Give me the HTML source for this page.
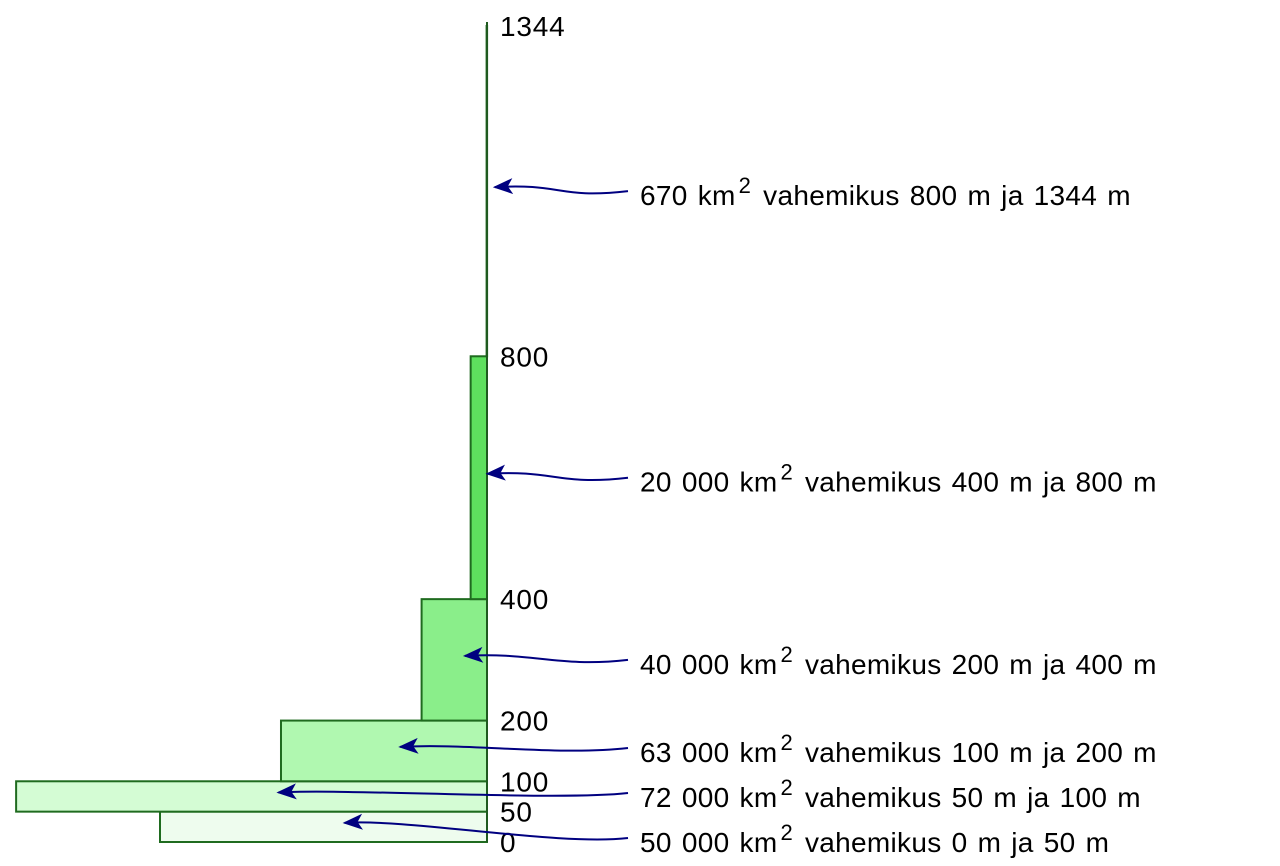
<!DOCTYPE html>
<html><head><meta charset="utf-8"><style>
html,body{margin:0;padding:0;background:#fff;}
svg{display:block;font-family:"Liberation Sans",sans-serif;}
</style></head><body>
<svg id="chart" width="1280" height="866"></svg>
<script>
const lows = [0, 50, 100, 200, 400, 800];
const highs = [50, 100, 200, 400, 800, 1344];
const areas = [50000, 72000, 63000, 40000, 20000, 670];
const areaLabels = ["50 000", "72 000", "63 000", "40 000", "20 000", "670"];
const tickValues = [0, 50, 100, 200, 400, 800, 1344];
const fills = ["#eefcee", "#d4fcd4", "#b0f8b0", "#8aee8a", "#5ee05e", "#5ee05e"];

const NS = "http://www.w3.org/2000/svg";
const svg = document.getElementById("chart");
const axisX = 487;
function yScale(v){ return 842 - v * (842 - 26) / 1344; }
function wScale(a, lo, hi){ return a / (hi - lo) * 0.327; }
function mk(tag, attrs, parent){
  const e = document.createElementNS(NS, tag);
  for (const k in attrs) e.setAttribute(k, attrs[k]);
  (parent || svg).appendChild(e);
  return e;
}
const defs = mk("defs", {});
const mr = mk("marker", {id:"ah", markerWidth:"22", markerHeight:"18", refX:"18", refY:"8", orient:"auto", markerUnits:"userSpaceOnUse"}, defs);
mk("path", {d:"M20,8 L0,0 L5,8 L0,16 Z", fill:"#000080"}, mr);

for (let i = 0; i < lows.length; i++) {
  const w = wScale(areas[i], lows[i], highs[i]);
  const y1 = yScale(highs[i]), y0 = yScale(lows[i]);
  const r = mk("rect", {x: axisX - w, y: y1, width: Math.max(w, 0.5), height: y0 - y1, fill: fills[i], stroke: "#1f6b1f", "stroke-width": 2});
  
  
}
const ax = mk("line", {x1: axisX, y1: 22, x2: axisX, y2: 842, stroke: "#1f5a1f", "stroke-width": 2});


tickValues.forEach(v => {
  const t = mk("text", {x: 500, y: yScale(v) + 10, "font-size": 28, "letter-spacing": 0.8, fill: "#000"});
  t.textContent = v;
  
  
});
let prev = null;
for (let i = 0; i < lows.length; i++) {
  const mid = (lows[i] + highs[i]) / 2;
  let c = (i === 0) ? yScale(0) : Math.min(yScale(mid) + 4, prev - 45);
  prev = c;
  const w = wScale(areas[i], lows[i], highs[i]);
  const tipX = axisX - (0.46 * w - 6);
  const tipY = yScale(mid) - 4;
  const sx = 628, sy = c - 4;
  const p = mk("path", {d: `M${sx},${sy} C${sx-70},${sy+8} ${tipX+70},${tipY-4} ${tipX+2},${tipY}`, fill: "none", stroke: "#000080", "stroke-width": 2, "marker-end": "url(#ah)"});
  
  
  const t = mk("text", {x: 640, y: c + 10, "font-size": 28, "letter-spacing": 0.3, "word-spacing": 2, fill: "#000"});
  
  
  const s1 = mk("tspan", {}, t); s1.textContent = areaLabels[i] + " km";
  const s2 = mk("tspan", {dy: -12, dx: 3, "font-size": 22}, t); s2.textContent = "2";
  const s3 = mk("tspan", {dy: 12, dx: 12}, t); s3.textContent = "vahemikus " + lows[i] + " m ja " + highs[i] + " m";
}
</script>
</body></html>
